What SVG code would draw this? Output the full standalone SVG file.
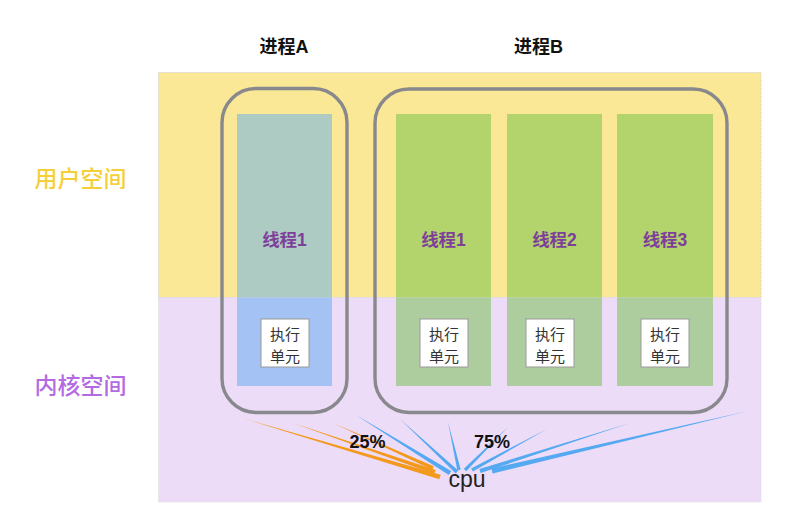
<svg xmlns="http://www.w3.org/2000/svg" width="802" height="513" viewBox="0 0 802 513">
<style>
.title{font-family:"Liberation Sans","Noto Sans CJK SC",sans-serif;font-weight:bold;font-size:18px;fill:#111;text-anchor:middle}
.space{font-family:"Noto Sans CJK SC",sans-serif;font-weight:500;font-size:23px;text-anchor:middle}
.thr{font-family:"Liberation Sans","Noto Sans CJK SC",sans-serif;font-weight:bold;font-size:17.5px;fill:#7e3f9a;text-anchor:middle}
.unit rect{fill:#fff;stroke:#999;stroke-width:1}
.unit text{font-family:"Noto Sans CJK SC",sans-serif;font-size:15px;fill:#333;text-anchor:middle}
.proc{fill:none;stroke:#88888d;stroke-width:3.4}
.pct{font-family:"Liberation Sans",sans-serif;font-weight:bold;font-size:18px;fill:#111;text-anchor:middle}
.or{fill:#f39a1e}
.bl{fill:#55a9f0}
</style>
<rect width="802" height="513" fill="#fff"/>
<g id="user-space">
<rect x="158.5" y="72.5" width="602.5" height="225" fill="#fae896" stroke="#cfcfcf" stroke-width="1" stroke-dasharray="1,1"/>
<text class="space" x="80.5" y="187" fill="#f5cf3a">用户空间</text>
</g>
<g id="kernel-space">
<rect x="158.5" y="297.5" width="602.5" height="204.5" fill="#eddcf8" stroke="#dcdcdc" stroke-width="1" stroke-dasharray="1,1"/>
<text class="space" x="80.5" y="394" fill="#b36ae2">内核空间</text>
</g>
<g id="thread-A1">
<rect x="237" y="114" width="95" height="183.5" fill="#aecbc3"/>
<rect x="237" y="297.5" width="95" height="88.5" fill="#a4c3f4"/>
<text class="thr" x="284.5" y="246">线程1</text>
</g>
<g id="thread-B1">
<rect x="396" y="114" width="95" height="183.5" fill="#b3d36d"/>
<rect x="396" y="297.5" width="95" height="88.5" fill="#aecd9f"/>
<text class="thr" x="443.5" y="246">线程1</text>
</g>
<g id="thread-B2">
<rect x="507" y="114" width="95" height="183.5" fill="#b3d36d"/>
<rect x="507" y="297.5" width="95" height="88.5" fill="#aecd9f"/>
<text class="thr" x="554.5" y="246">线程2</text>
</g>
<g id="thread-B3">
<rect x="617" y="114" width="96" height="183.5" fill="#b3d36d"/>
<rect x="617" y="297.5" width="96" height="88.5" fill="#aecd9f"/>
<text class="thr" x="665" y="246">线程3</text>
</g>
<g id="unit-A1" class="unit">
<rect x="261" y="319" width="48" height="48"/>
<text x="285" y="340">执行</text><text x="285" y="362">单元</text>
</g>
<g id="unit-B1" class="unit">
<rect x="420" y="319" width="48" height="48"/>
<text x="444" y="340">执行</text><text x="444" y="362">单元</text>
</g>
<g id="unit-B2" class="unit">
<rect x="526" y="319" width="48" height="48"/>
<text x="550" y="340">执行</text><text x="550" y="362">单元</text>
</g>
<g id="unit-B3" class="unit">
<rect x="641" y="319" width="48" height="48"/>
<text x="665" y="340">执行</text><text x="665" y="362">单元</text>
</g>
<g id="process-A">
<rect class="proc" x="222" y="88.5" width="125" height="324" rx="34"/>
<text class="title" x="284" y="53">进程A</text>
</g>
<g id="process-B">
<rect class="proc" x="375" y="89" width="352" height="323.5" rx="34"/>
<text class="title" x="538.5" y="53">进程B</text>
</g>
<g id="connectors">
<polygon class="or" points="242,418 439.3,479.3 440.7,474.7"/>
<polygon class="or" points="293,423 434.2,474 435.8,470"/>
<polygon class="or" points="333,423 432.2,469.8 433.8,466.2"/>
<polygon class="bl" points="356,415 448.8,475 451.2,471"/>
<polygon class="bl" points="400,419 455.8,473.4 458.2,470.6"/>
<polygon class="bl" points="448,422 457.3,470.4 460.7,469.6"/>
<polygon class="bl" points="508,427 463.8,468.8 466.2,471.2"/>
<polygon class="bl" points="547,429 471.1,468.5 472.9,471.5"/>
<polygon class="bl" points="630,423 479.3,469 480.7,473"/>
<polygon class="bl" points="748,411 491.4,468.5 492.6,473.5"/>
</g>
<g id="cpu">
<text x="467" y="487" font-family="Liberation Sans,sans-serif" font-size="23" fill="#222" text-anchor="middle">cpu</text>
</g>
<text class="pct" x="367.5" y="448">25%</text>
<text class="pct" x="492" y="448">75%</text>
</svg>
